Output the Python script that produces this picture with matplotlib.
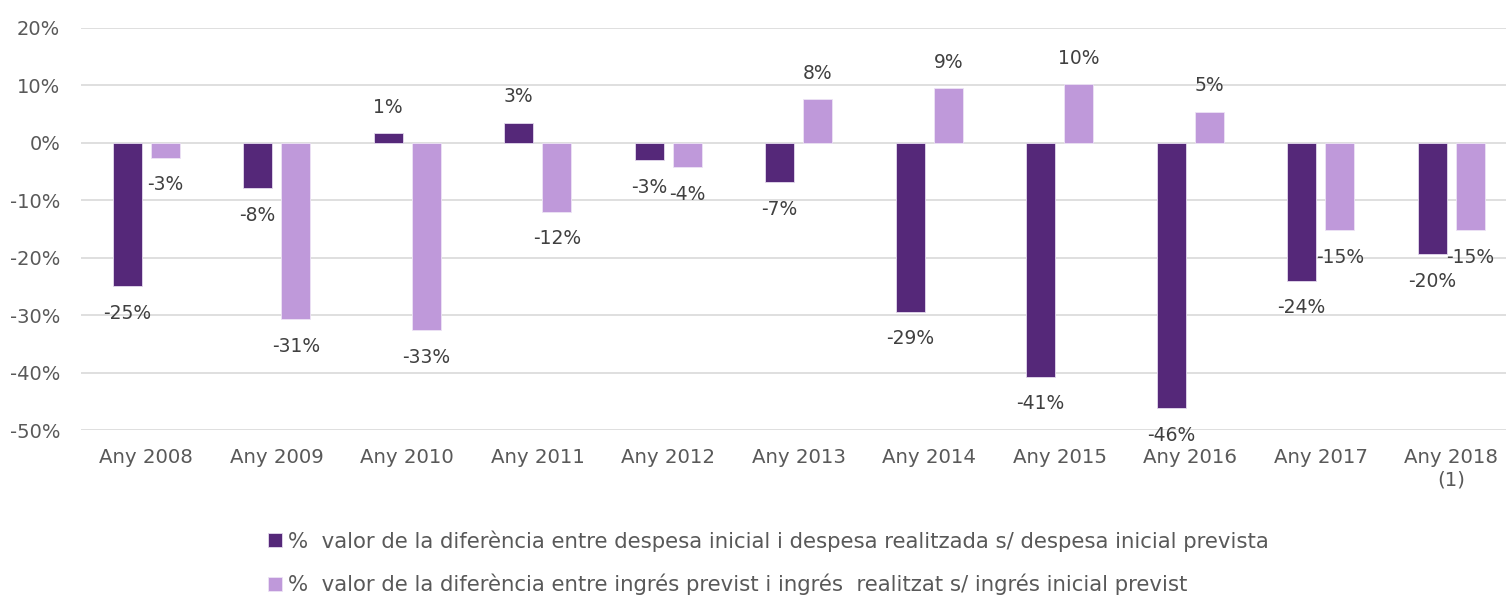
import matplotlib
matplotlib.use('Agg')
import matplotlib.pyplot as plt
import numpy as np

# data
years = ['Any 2008', 'Any 2009', 'Any 2010', 'Any 2011', 'Any 2012', 'Any 2013',
         'Any 2014', 'Any 2015', 'Any 2016', 'Any 2017', 'Any 2018\n(1)']
despesa = [-25.0, -7.9, 1.6, 3.5, -3.1, -6.9, -29.4, -40.7, -46.2, -24.0, -19.4]
ingres = [-2.6, -30.7, -32.6, -12.0, -4.3, 7.6, 9.5, 10.2, 5.4, -15.2, -15.2]
despesa_lbl = ['-25%', '-8%', '1%', '3%', '-3%', '-7%', '-29%', '-41%', '-46%', '-24%', '-20%']
ingres_lbl = ['-3%', '-31%', '-33%', '-12%', '-4%', '8%', '9%', '10%', '5%', '-15%', '-15%']
legend_txt = ['%  valor de la diferència entre despesa inicial i despesa realitzada s/ despesa inicial prevista',
              '%  valor de la diferència entre ingrés previst i ingrés  realitzat s/ ingrés inicial previst']
yticks = [-50, -40, -30, -20, -10, 0, 10, 20]

c_dark = '#552879'
c_light = '#BF99DA'
grey = '#595959'

W, H = 1506, 598
fig = plt.figure(figsize=(W/100, H/100), dpi=100)
ax = fig.add_axes([81/W, 1-430/H, (1516.5-81)/W, (430-27.7)/H])

x = np.arange(len(years))
off = 0.146
bw = 0.222
b1 = ax.bar(x-off, despesa, bw, color=c_dark, edgecolor='#E4DAEE', lw=0.6, zorder=3)
b2 = ax.bar(x+off, ingres, bw, color=c_light, edgecolor='#EDE3F5', lw=0.6, zorder=3)

# data labels, outside end
for xs, vals, lbls in [(x-off, despesa, despesa_lbl), (x+off, ingres, ingres_lbl)]:
    for xi, v, t in zip(xs, vals, lbls):
        dy = 18.5 if v >= 0 else -19.5
        ax.annotate(t, (xi, v), xytext=(0, dy), textcoords='offset points',
                    ha='center', va='center', fontsize=13.5, color='#404040', zorder=4)

ax.set_xlim(-0.5, len(years)-0.5)
ax.set_ylim(-50, 20)
ax.set_yticks(yticks)
ax.set_yticklabels([str(v)+'%' for v in yticks])
ax.set_xticks(x)
ax.set_xticklabels(years)
ax.tick_params(axis='y', length=0, pad=15, labelsize=14, labelcolor=grey)
ax.tick_params(axis='x', length=0, pad=13, labelsize=14.2, labelcolor=grey)
ax.grid(axis='y', color='#D9D9D9', lw=1.2, zorder=0)
ax.set_axisbelow(True)
for s in ax.spines.values():
    s.set_visible(False)

leg = fig.legend([b1, b2], legend_txt, loc='upper left',
                 bbox_to_anchor=(268/W, 1-530/H), frameon=False,
                 handlelength=0.66, handleheight=0.66, handletextpad=0.3,
                 labelspacing=1.05, borderaxespad=0, borderpad=0,
                 prop={'family': 'DejaVu Sans', 'size': 15.3})
for t in leg.get_texts():
    t.set_color(grey)

fig.savefig('out.png', dpi=100)
